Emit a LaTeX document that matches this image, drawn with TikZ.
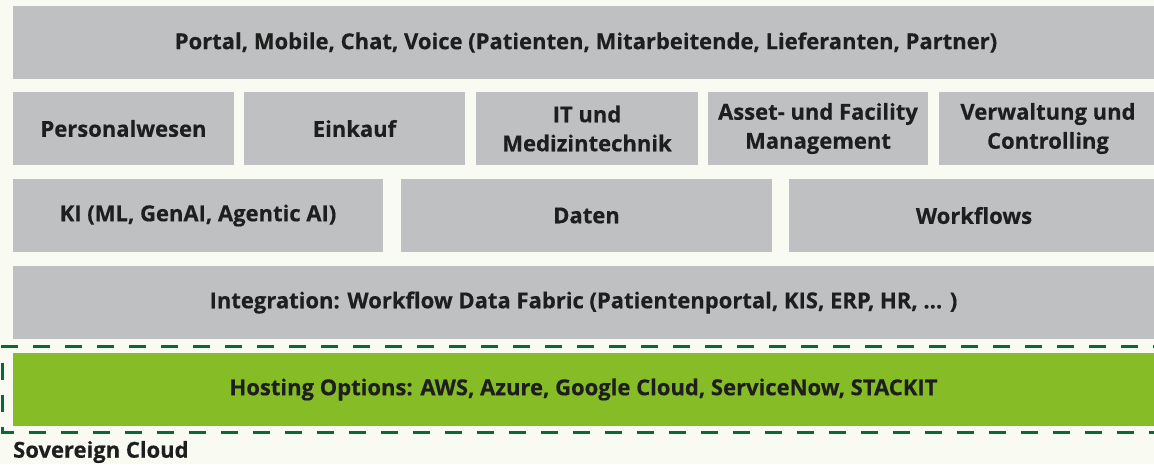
\documentclass[tikz,border=0pt]{standalone}
\usepackage{fontspec}
\setmainfont{Open Sans}[BoldFeatures={FakeBold=0.4}]
\definecolor{bgc}{HTML}{F9FBF3}
\definecolor{boxg}{HTML}{BFC0C2}
\definecolor{hgreen}{HTML}{86BC25}
\definecolor{dgreen}{HTML}{046A38}
\definecolor{txt}{HTML}{1E1E1E}
\begin{document}
\begin{tikzpicture}[x=1pt,y=-1pt,
  layer/.style={fill=boxg,draw=none},
  lbl/.style={font=\fontsize{22}{29}\selectfont\bfseries,text=txt,align=center}]
\fill[bgc] (0,0) rectangle (1154,464);
\useasboundingbox (0,0) rectangle (1154,464);
% row 1
\fill[layer] (13,6) rectangle (1154,79);
\node[lbl] (portal) at (586,42.5) {Portal, Mobile, Chat, Voice (Patienten, Mitarbeitende, Lieferanten, Partner)};
% row 2
\fill[layer] (13,92) rectangle (234,165);
\node[lbl] (pers) at (123.5,128.5) {Personalwesen};
\fill[layer] (244,92) rectangle (465,165);
\node[lbl] (eink) at (354.5,128.5) {Einkauf};
\fill[layer] (476,92) rectangle (698,165);
\node[lbl] (itm) at (587,128.5) {IT und\\Medizintechnik};
\fill[layer] (708,92) rectangle (928,165);
\node[lbl] (asset) at (818,128.5) {Asset- und Facility\\Management};
\fill[layer] (939,92) rectangle (1154,165);
\node[lbl] (verw) at (1048,128.5) {Verwaltung und\\Controlling};
% row 3
\fill[layer] (13,179) rectangle (383,252);
\node[lbl] (ki) at (198,215.5) {KI (ML, GenAI, Agentic AI)};
\fill[layer] (401,179) rectangle (772,252);
\node[lbl] (daten) at (586.5,215.5) {Daten};
\fill[layer] (789,179) rectangle (1154,252);
\node[lbl] (wf) at (974,215.5) {Workflows};
% row 4
\fill[layer] (13,266) rectangle (1154,339);
\node[lbl] (integ) at (583.5,302.5) {Integration: Workflow Data Fabric (Patientenportal, KIS, ERP, HR, ... )};
% hosting
\fill[hgreen] (13,353) rectangle (1154,426);
\node[lbl] (host) at (583.5,389.5) {Hosting Options: AWS, Azure, Google Cloud, ServiceNow, STACKIT};
\begin{scope}
\clip (0,0) rectangle (1154,464);
\draw[dgreen,line width=3pt,dash pattern=on 17pt off 15pt] (1170,346) -- (2.5,346) -- (2.5,432) -- (1170,432);
\end{scope}
\node[lbl,anchor=west,inner sep=0pt] (sov) at (13,452) {Sovereign Cloud};
\end{tikzpicture}
\end{document}
